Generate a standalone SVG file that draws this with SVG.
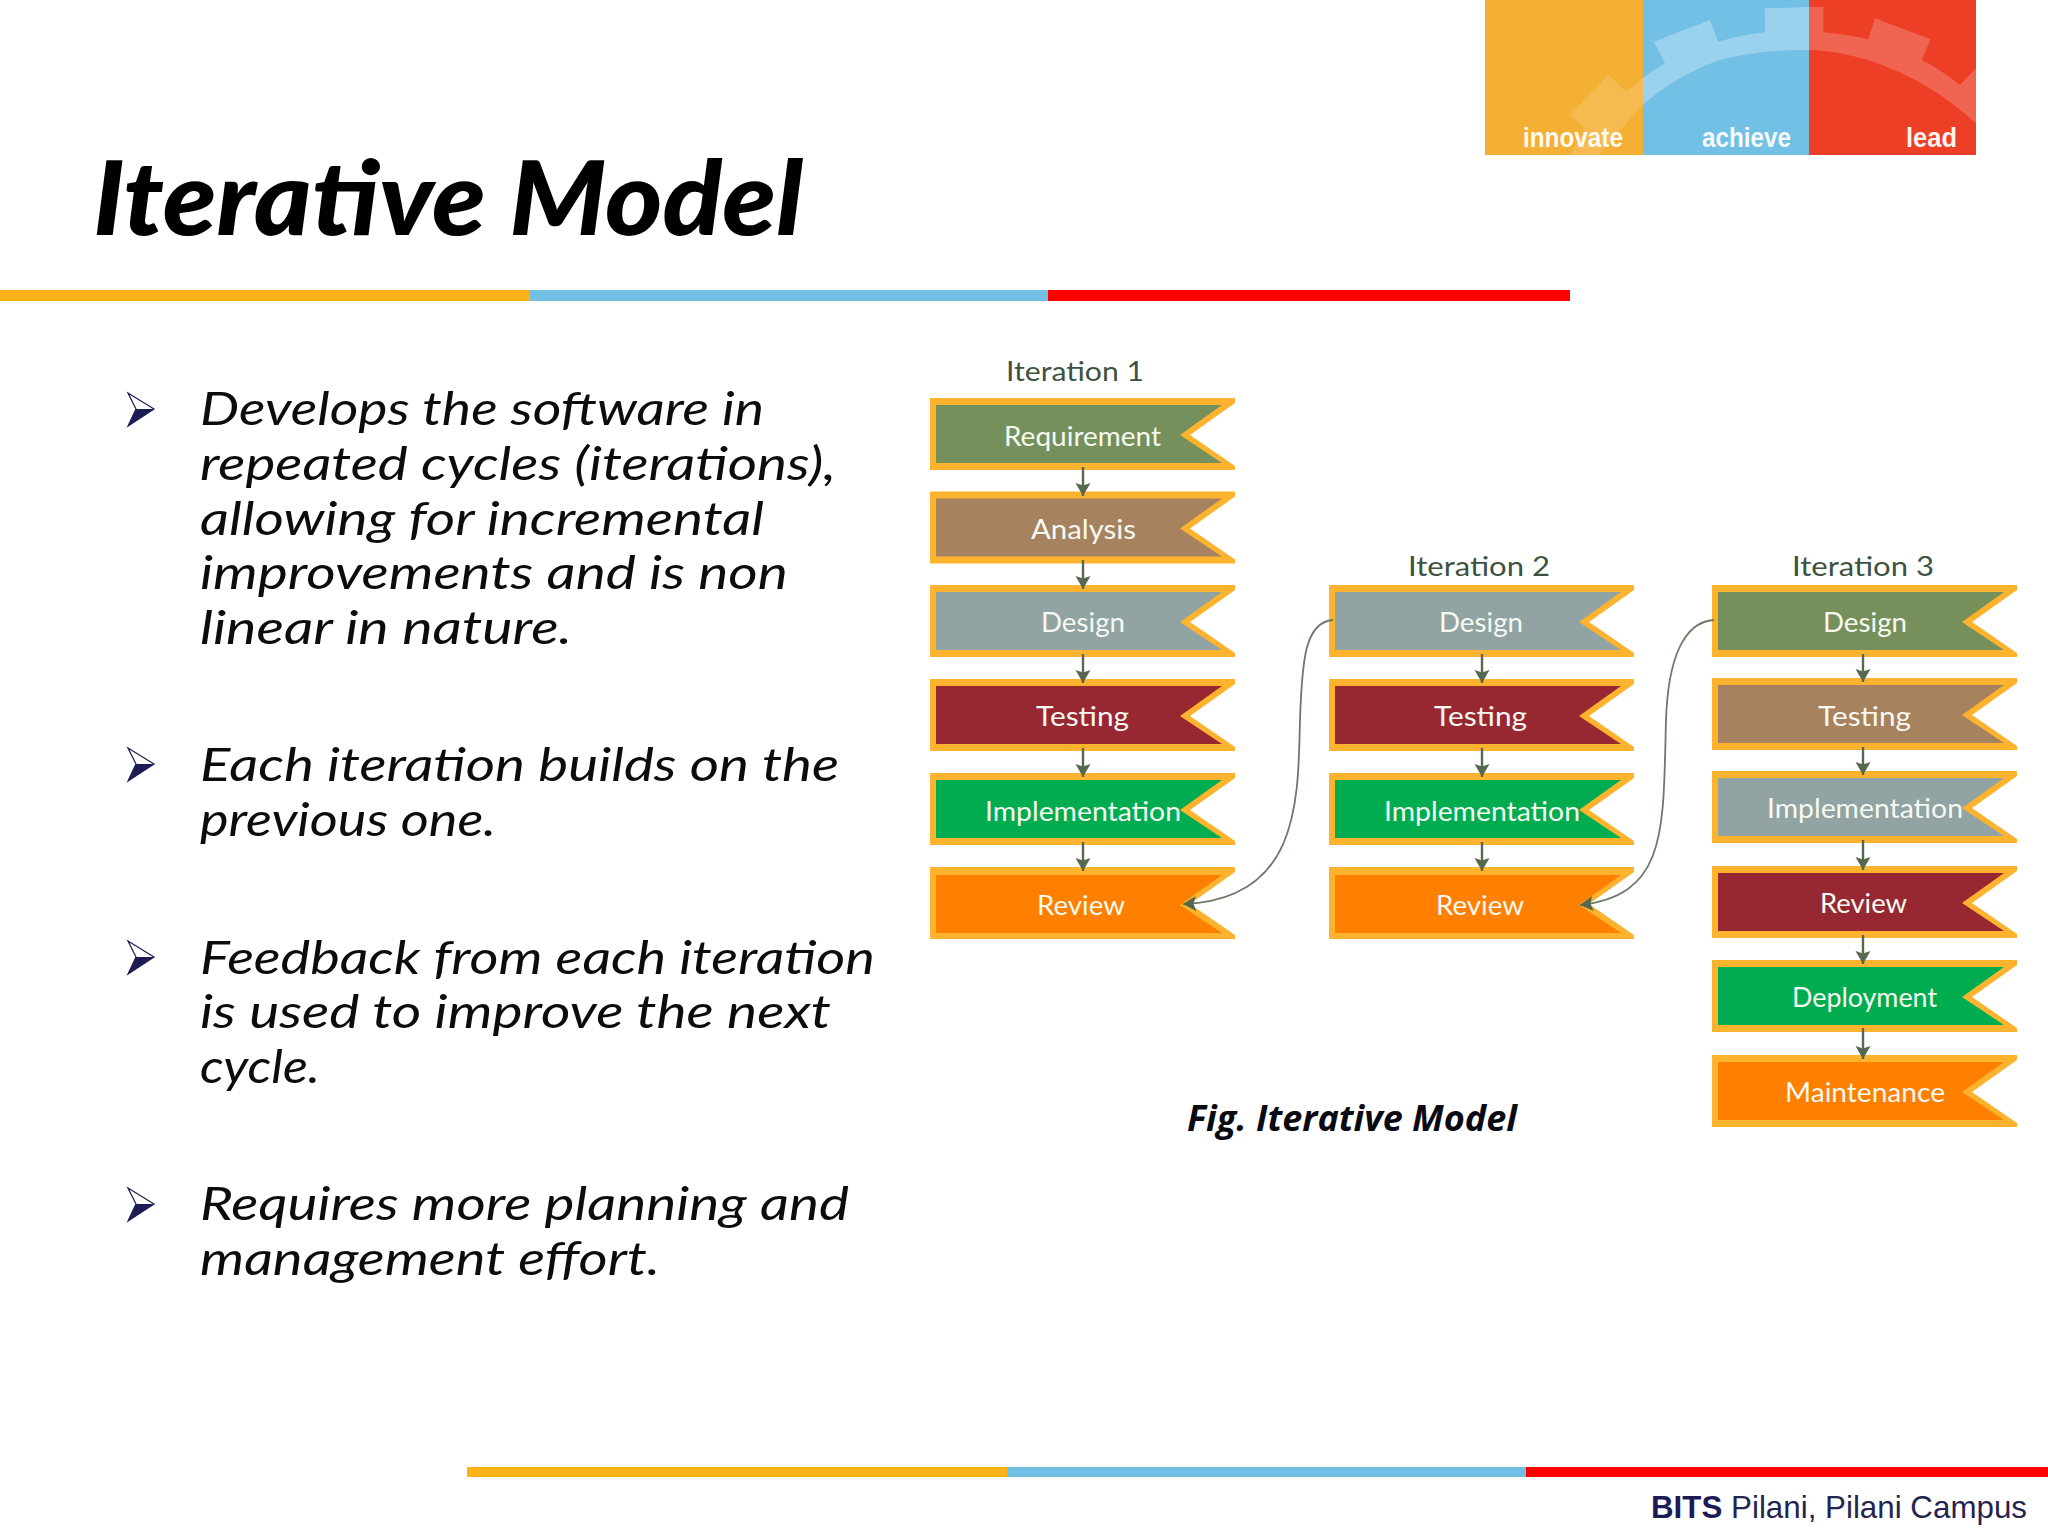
<svg xmlns="http://www.w3.org/2000/svg" xmlns:xlink="http://www.w3.org/1999/xlink" width="2048" height="1536" viewBox="0 0 2048 1536">
<style>
.body{font:italic 400 46px Lato,"Open Sans",sans-serif;fill:#0c0c0c}
.lab{font:400 27px Lato,"Open Sans",sans-serif;fill:#f6f9f2}
.iter{font:400 27px Lato,"Open Sans",sans-serif;fill:#3d5240}
.logo{font:700 28px "Liberation Sans",Arial,sans-serif;fill:#fff;fill-opacity:.95}
.edge{stroke:#56694f;stroke-width:2.4;fill:none;marker-end:url(#ah)}
.curve{stroke:#6c7a68;stroke-width:1.8;fill:none;marker-end:url(#ah)}
.olive{fill:#76905c}.brown{fill:#a6825f}.grey{fill:#91a3a3}.maroon{fill:#972832}.green{fill:#00ac50}.orange{fill:#ff8000}
.frame{fill:#fdb32e}
.gear{fill:#fff}
</style>
<defs>
<marker id="ah" markerUnits="userSpaceOnUse" markerWidth="16" markerHeight="18" refX="13" refY="9" orient="auto">
<path d="M0,1.5 L2.5,9 L0,16.5 L13,9 Z" fill="#56694f"/>
</marker>
<polygon id="outer" points="930,0 1235,0 1235,5 1190,37 1235,68 1235,72 930,72"/>
<polygon id="inner" points="936,7 1222,7 1180,37 1222,65 936,65"/>
<g id="bullet">
<polygon points="128,-16 154,0 128,17 136,0" fill="#fff" stroke="#1c1c55" stroke-width="1.2"/>
<polygon points="136,0 154,0 128,17" fill="#1c1c55"/>
</g>
<clipPath id="c1"><rect x="1485" y="0" width="158" height="155"/></clipPath>
<clipPath id="c2"><rect x="1643" y="0" width="166" height="155"/></clipPath>
<clipPath id="c3"><rect x="1809" y="0" width="167" height="155"/></clipPath>
<path id="gearband" transform="translate(1470,0) scale(.3333)" d="M345,385 L300,345 L415,225 L470,275 Q525,225 585,190 L552,125 L720,60 L745,125 Q815,105 885,97 L885,25 L1060,20 L1060,97 Q1130,103 1195,118 L1215,55 L1382,118 L1355,180 Q1415,210 1470,255 L1518,205 L1518,370 Q1400,260 1250,200 Q1120,150 1000,150 Q860,150 750,180 Q620,225 518,315 L385,465 L300,465 Z"/>
</defs>
<rect width="2048" height="1536" fill="#fff"/>

<g id="logo">
<rect x="1485" y="0" width="158" height="155" fill="#f4b034"/>
<rect x="1643" y="0" width="166" height="155" fill="#73c0e6"/>
<rect x="1809" y="0" width="167" height="155" fill="#ec3f26"/>
<g clip-path="url(#c1)"><use href="#gearband" class="gear" fill-opacity=".14"/></g>
<g clip-path="url(#c2)"><use href="#gearband" class="gear" fill-opacity=".28"/></g>
<g clip-path="url(#c3)"><use href="#gearband" class="gear" fill-opacity=".2"/></g>
<text class="logo" x="1523" y="147" textLength="100" lengthAdjust="spacingAndGlyphs">innovate</text>
<text class="logo" x="1702" y="147" textLength="89" lengthAdjust="spacingAndGlyphs">achieve</text>
<text class="logo" x="1906" y="147" textLength="51" lengthAdjust="spacingAndGlyphs">lead</text>
</g>

<text id="title" x="93" y="235" font-family="Lato,'Open Sans',sans-serif" font-weight="900" font-style="italic" font-size="102" fill="#000" textLength="710" lengthAdjust="spacingAndGlyphs">Iterative Model</text>

<g id="top-rule">
<rect x="0" y="290" width="530" height="11" fill="#fdb119"/>
<rect x="530" y="290" width="518" height="11" fill="#73c0e6"/>
<rect x="1048" y="290" width="522" height="11" fill="#fe0000"/>
</g>

<g id="bullets">
<use xlink:href="#bullet" href="#bullet" y="409"/>
<text class="body" x="200" y="425" textLength="564" lengthAdjust="spacingAndGlyphs">Develops the software in</text>
<text class="body" x="200" y="480" textLength="636" lengthAdjust="spacingAndGlyphs">repeated cycles (iterations),</text>
<text class="body" x="200" y="535" textLength="564" lengthAdjust="spacingAndGlyphs">allowing for incremental</text>
<text class="body" x="200" y="589" textLength="588" lengthAdjust="spacingAndGlyphs">improvements and is non</text>
<text class="body" x="200" y="644" textLength="372" lengthAdjust="spacingAndGlyphs">linear in nature.</text>
<use xlink:href="#bullet" href="#bullet" y="764"/>
<text class="body" x="200" y="781" textLength="639" lengthAdjust="spacingAndGlyphs">Each iteration builds on the</text>
<text class="body" x="200" y="836" textLength="296" lengthAdjust="spacingAndGlyphs">previous one.</text>
<use xlink:href="#bullet" href="#bullet" y="957"/>
<text class="body" x="200" y="974" textLength="675" lengthAdjust="spacingAndGlyphs">Feedback from each iteration</text>
<text class="body" x="200" y="1028" textLength="631" lengthAdjust="spacingAndGlyphs">is used to improve the next</text>
<text class="body" x="200" y="1083" textLength="120" lengthAdjust="spacingAndGlyphs">cycle.</text>
<use xlink:href="#bullet" href="#bullet" y="1204"/>
<text class="body" x="200" y="1220" textLength="649" lengthAdjust="spacingAndGlyphs">Requires more planning and</text>
<text class="body" x="200" y="1275" textLength="460" lengthAdjust="spacingAndGlyphs">management effort.</text>
</g>

<text class="iter" x="1006" y="381" textLength="138" lengthAdjust="spacingAndGlyphs">Iteration 1</text>
<text class="iter" x="1408" y="576" textLength="142" lengthAdjust="spacingAndGlyphs">Iteration 2</text>
<text class="iter" x="1792" y="576" textLength="142" lengthAdjust="spacingAndGlyphs">Iteration 3</text>

<g id="i1-requirement"><use href="#outer" class="frame" y="398"/><use href="#inner" class="olive" y="398"/><text class="lab" x="1004" y="446" textLength="157" lengthAdjust="spacingAndGlyphs">Requirement</text></g>
<g id="i1-analysis"><use href="#outer" class="frame" y="491.5"/><use href="#inner" class="brown" y="491.5"/><text class="lab" x="1031" y="539" textLength="105" lengthAdjust="spacingAndGlyphs">Analysis</text></g>
<g id="i1-design"><use href="#outer" class="frame" y="585"/><use href="#inner" class="grey" y="585"/><text class="lab" x="1041" y="632" textLength="84" lengthAdjust="spacingAndGlyphs">Design</text></g>
<g id="i1-testing"><use href="#outer" class="frame" y="679"/><use href="#inner" class="maroon" y="679"/><text class="lab" x="1036" y="726" textLength="93" lengthAdjust="spacingAndGlyphs">Testing</text></g>
<g id="i1-implementation"><use href="#outer" class="frame" y="773"/><use href="#inner" class="green" y="773"/><text class="lab" x="985" y="821" textLength="196" lengthAdjust="spacingAndGlyphs">Implementation</text></g>
<g id="i1-review"><use href="#outer" class="frame" y="867"/><use href="#inner" class="orange" y="868"/><text class="lab" x="1037" y="915" textLength="88" lengthAdjust="spacingAndGlyphs">Review</text></g>

<g id="i2-design"><use href="#outer" class="frame" x="399" y="585"/><use href="#inner" class="grey" x="399" y="585"/><text class="lab" x="1439" y="632" textLength="84" lengthAdjust="spacingAndGlyphs">Design</text></g>
<g id="i2-testing"><use href="#outer" class="frame" x="399" y="679"/><use href="#inner" class="maroon" x="399" y="679"/><text class="lab" x="1434" y="726" textLength="93" lengthAdjust="spacingAndGlyphs">Testing</text></g>
<g id="i2-implementation"><use href="#outer" class="frame" x="399" y="773"/><use href="#inner" class="green" x="399" y="773"/><text class="lab" x="1384" y="821" textLength="196" lengthAdjust="spacingAndGlyphs">Implementation</text></g>
<g id="i2-review"><use href="#outer" class="frame" x="399" y="867"/><use href="#inner" class="orange" x="399" y="868"/><text class="lab" x="1436" y="915" textLength="88" lengthAdjust="spacingAndGlyphs">Review</text></g>

<g id="i3-design"><use href="#outer" class="frame" x="782" y="585"/><use href="#inner" class="olive" x="782" y="585"/><text class="lab" x="1823" y="632" textLength="84" lengthAdjust="spacingAndGlyphs">Design</text></g>
<g id="i3-testing"><use href="#outer" class="frame" x="782" y="678"/><use href="#inner" class="brown" x="782" y="678"/><text class="lab" x="1818" y="726" textLength="93" lengthAdjust="spacingAndGlyphs">Testing</text></g>
<g id="i3-implementation"><use href="#outer" class="frame" x="782" y="771"/><use href="#inner" class="grey" x="782" y="771"/><text class="lab" x="1767" y="818" textLength="196" lengthAdjust="spacingAndGlyphs">Implementation</text></g>
<g id="i3-review"><use href="#outer" class="frame" x="782" y="866"/><use href="#inner" class="maroon" x="782" y="866"/><text class="lab" x="1820" y="913" textLength="87" lengthAdjust="spacingAndGlyphs">Review</text></g>
<g id="i3-deployment"><use href="#outer" class="frame" x="782" y="960"/><use href="#inner" class="green" x="782" y="960"/><text class="lab" x="1792" y="1007" textLength="145" lengthAdjust="spacingAndGlyphs">Deployment</text></g>
<g id="i3-maintenance"><use href="#outer" class="frame" x="782" y="1055"/><use href="#inner" class="orange" x="782" y="1055"/><text class="lab" x="1785" y="1102" textLength="160" lengthAdjust="spacingAndGlyphs">Maintenance</text></g>

<g id="connectors">
<path class="edge" d="M1083,467V496"/><path class="edge" d="M1083,560V589"/><path class="edge" d="M1083,654V683"/><path class="edge" d="M1083,748V777"/><path class="edge" d="M1083,842V871"/>
<path class="edge" d="M1482,654V683"/><path class="edge" d="M1482,748V777"/><path class="edge" d="M1482,842V871"/>
<path class="edge" d="M1863,654V682"/><path class="edge" d="M1863,747V775"/><path class="edge" d="M1863,840V870"/><path class="edge" d="M1863,935V964"/><path class="edge" d="M1863,1028V1059"/>
<path class="curve" d="M1333,620 C1305,622 1302,660 1300,720 C1298,800 1300,900 1183,904"/>
<path class="curve" d="M1714,620 C1683,622 1668,660 1666,720 C1663,830 1668,895 1580,905"/>
</g>

<text id="caption" x="1187" y="1131" font-family="'Open Sans',Lato,sans-serif" font-weight="700" font-style="italic" font-size="35" fill="#0a0a12" textLength="330" lengthAdjust="spacingAndGlyphs">Fig. Iterative Model</text>

<g id="bottom-rule">
<rect x="467" y="1467" width="540" height="10" fill="#fdb119"/>
<rect x="1007" y="1467" width="519" height="10" fill="#73c0e6"/>
<rect x="1526" y="1467" width="522" height="10" fill="#fe0000"/>
</g>
<text id="footer" x="1651" y="1518" font-family="'Liberation Sans',Arial,sans-serif" font-size="32" fill="#24244e" textLength="376" lengthAdjust="spacingAndGlyphs"><tspan font-weight="700" fill="#1c1c55">BITS</tspan> Pilani, Pilani Campus</text>
</svg>
